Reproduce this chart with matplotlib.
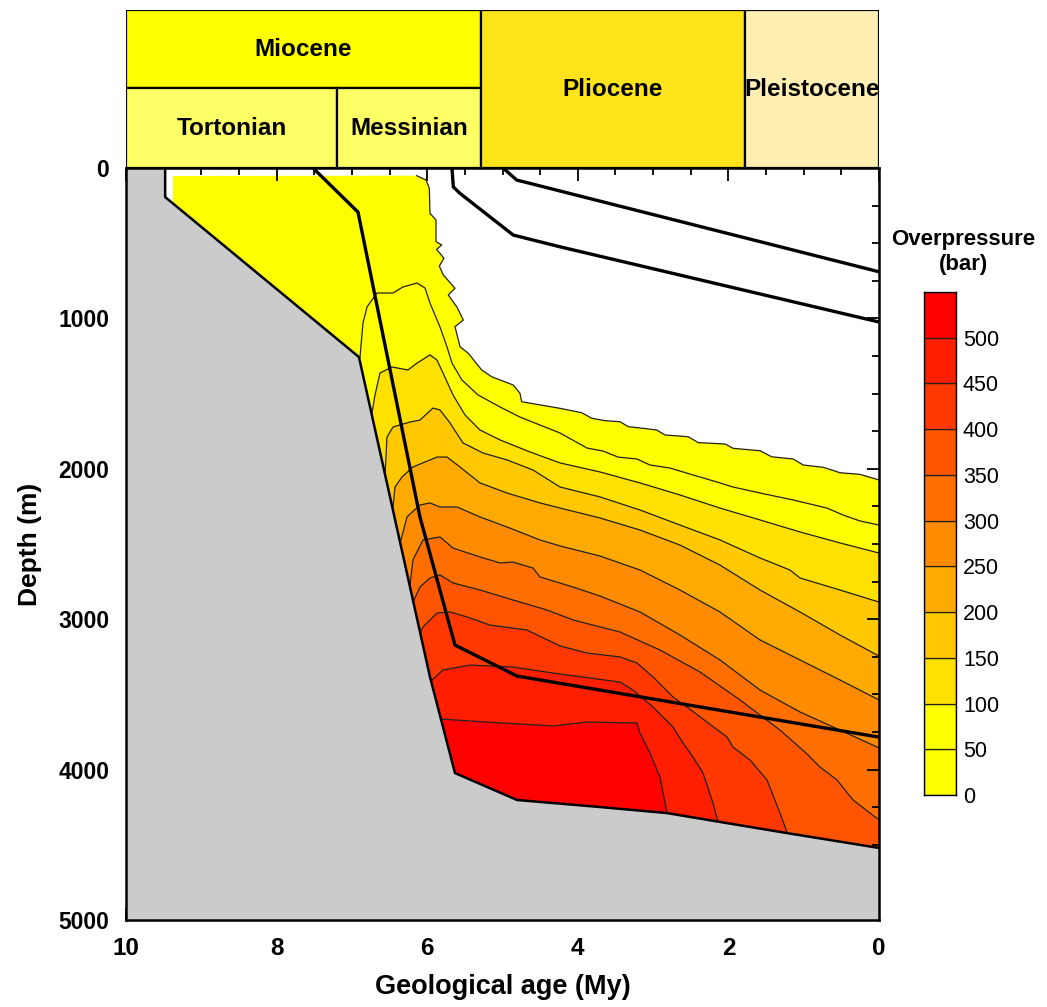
import matplotlib
matplotlib.use("Agg")
import matplotlib.pyplot as plt
from matplotlib.patches import Rectangle
from matplotlib.ticker import MultipleLocator

plt.rcParams['font.family'] = ['Liberation Sans', 'DejaVu Sans']

# ---------------- data ----------------
levels = [0, 50, 100, 150, 200, 250, 300, 350, 400, 450, 500, 550]
band_colors = ['#FFFF00', '#FFFF00', '#FFE100', '#FFC800', '#FFAA00', '#FF8C00',
               '#FF6E00', '#FF5500', '#FF3700', '#FF1E00', '#FF0000']

stage_names = ['Miocene', 'Tortonian', 'Messinian', 'Pliocene', 'Pleistocene']
stage_old = [10.0, 10.0, 7.2, 5.29, 1.78]
stage_young = [5.29, 7.2, 5.29, 1.78, 0.0]
stage_bottom = [0.506, 0.0, 0.0, 0.0, 0.0]
stage_top = [1.0, 0.506, 0.506, 1.0, 1.0]
stage_colors = ['#FFFF00', '#FFFF66', '#FFFF66', '#FFE41C', '#FFEFB2']

# basement (top of grey area)
basement_age = [9.48, 9.48, 6.906, 5.963, 5.631, 4.807, 3.705, 2.815, 2.112, 1.222, 0.0]
basement_depth = [0, 193, 1257, 3384, 4023, 4202, 4249, 4289, 4348, 4422, 4521]

# overpressure contours (age My, depth m)
c0_age = [9.376, 6.139, 6.016, 5.972, 5.963, 5.883, 5.883, 5.807, 5.874, 5.777, 5.839,
          5.786, 5.631, 5.720, 5.608, 5.520, 5.631, 5.564, 5.454, 5.276, 5.143, 4.857,
          4.768, 4.745, 4.236, 3.948, 3.815, 3.639, 3.439, 3.329, 3.130, 2.952, 2.842,
          2.533, 2.400, 2.045, 1.935, 1.580, 1.425, 1.138, 1.005, 0.740, 0.518, 0.252, 0.0]
c0_depth = [53, 51, 80, 135, 301, 346, 490, 512, 541, 600, 652,
            711, 800, 844, 922, 1011, 1055, 1188, 1232, 1343, 1388, 1443,
            1498, 1554, 1598, 1627, 1664, 1680, 1687, 1720, 1731, 1742, 1775,
            1787, 1826, 1835, 1864, 1880, 1920, 1935, 1975, 1990, 2026, 2037, 2074]

c50_age = [6.892, 6.853, 6.799, 6.667, 6.454, 6.321, 6.135, 6.029, 5.963, 5.830, 5.737,
           5.671, 5.538, 5.325, 5.033, 4.768, 4.502, 4.236, 3.878, 3.665, 3.466, 3.214,
           3.041, 2.776, 2.470, 2.151, 1.939, 1.580, 1.142, 0.691, 0.478, 0.252, 0.0]
c50_depth = [1257, 1031, 924, 831, 831, 791, 765, 798, 898, 1057, 1190,
             1297, 1410, 1509, 1589, 1656, 1709, 1762, 1862, 1882, 1922, 1935,
             1975, 1995, 2041, 2088, 2121, 2161, 2207, 2261, 2307, 2347, 2374]

c100_age = [6.733, 6.693, 6.627, 6.467, 6.255, 6.135, 5.963, 5.870, 5.790, 5.657, 5.498,
            5.299, 5.033, 4.635, 4.236, 3.705, 3.174, 2.643, 2.112, 1.580, 1.049, 0.518, 0.0]
c100_depth = [1629, 1509, 1363, 1323, 1343, 1297, 1243, 1277, 1363, 1509, 1642,
              1742, 1808, 1888, 1961, 2021, 2094, 2174, 2261, 2340, 2420, 2493, 2560]

c150_age = [6.560, 6.534, 6.454, 6.228, 6.096, 5.923, 5.830, 5.697, 5.525, 5.259, 4.940,
            4.595, 4.236, 3.705, 3.174, 2.643, 2.112, 1.580, 1.182, 1.049, 0.518, 0.0]
c150_depth = [2041, 1789, 1722, 1689, 1676, 1596, 1609, 1695, 1828, 1895, 1941,
              2008, 2121, 2187, 2274, 2374, 2473, 2593, 2673, 2726, 2806, 2886]

c200_age = [6.454, 6.428, 6.335, 6.189, 5.870, 5.737, 5.564, 5.299, 4.940, 4.502, 4.236,
            3.705, 3.174, 2.643, 2.112, 1.580, 1.049, 0.518, 0.0]
c200_depth = [2254, 2121, 2055, 1988, 1922, 1922, 1988, 2094, 2161, 2227, 2261,
              2327, 2407, 2507, 2640, 2806, 2952, 3105, 3245]

c250_age = [6.348, 6.268, 6.096, 5.963, 5.830, 5.604, 5.299, 4.940, 4.502, 4.236, 3.705,
            3.174, 2.643, 2.112, 1.580, 1.049, 0.518, 0.0]
c250_depth = [2473, 2320, 2241, 2227, 2254, 2254, 2320, 2387, 2473, 2513, 2580,
              2673, 2806, 2952, 3138, 3271, 3404, 3537]

c300_age = [6.228, 6.189, 6.056, 5.830, 5.657, 5.299, 5.033, 4.861, 4.595, 4.502, 4.064,
            3.705, 3.174, 2.643, 2.112, 1.580, 1.049, 0.518, 0.0]
c300_depth = [2773, 2606, 2473, 2453, 2527, 2586, 2626, 2620, 2660, 2719, 2786,
              2846, 2952, 3105, 3271, 3471, 3617, 3737, 3856]

c350_age = [6.175, 6.096, 5.963, 5.830, 5.657, 5.299, 4.861, 4.409, 4.064, 3.440, 2.908,
            2.377, 1.846, 1.315, 0.969, 0.784, 0.558, 0.345, 0.0]
c350_depth = [2872, 2786, 2726, 2706, 2759, 2806, 2872, 2939, 3005, 3085, 3205,
              3351, 3537, 3737, 3890, 3983, 4069, 4202, 4335]

c400_age = [6.096, 6.056, 5.870, 5.697, 5.471, 5.166, 4.675, 4.236, 3.878, 3.440, 3.214,
            3.001, 2.736, 2.550, 2.337, 2.019, 1.939, 1.713, 1.487, 1.315, 1.222]
c400_depth = [3092, 3052, 2959, 2952, 2985, 3039, 3072, 3178, 3225, 3251, 3291,
              3384, 3517, 3584, 3664, 3783, 3850, 3936, 4069, 4289, 4415]

c450_age = [5.936, 5.790, 5.432, 4.861, 4.329, 3.440, 3.267, 3.001, 2.736, 2.603, 2.470,
            2.337, 2.205, 2.138]
c450_depth = [3404, 3338, 3305, 3318, 3358, 3418, 3471, 3584, 3717, 3823, 3916,
              4023, 4222, 4348]

c500_age = [5.817, 5.206, 4.329, 3.878, 3.214, 3.174, 3.041, 2.908, 2.815]
c500_depth = [3664, 3684, 3710, 3684, 3690, 3757, 3890, 4050, 4289]

# burial paths (thick black lines)
path1_age = [7.517, 6.919, 6.096, 5.631, 4.807, 0.0]
path1_depth = [0, 293, 2321, 3172, 3378, 3784]
path2_age = [5.671, 5.653, 5.564, 4.857, 4.236, 0.0]
path2_depth = [0, 126, 169, 446, 524, 1024]
path3_age = [4.993, 4.811, 0.0]
path3_depth = [0, 80, 690]

contours = [(c0_age, c0_depth), (c50_age, c50_depth), (c100_age, c100_depth),
            (c150_age, c150_depth), (c200_age, c200_depth), (c250_age, c250_depth),
            (c300_age, c300_depth), (c350_age, c350_depth), (c400_age, c400_depth),
            (c450_age, c450_depth), (c500_age, c500_depth)]

# ---------------- figure ----------------
W, H = 1047, 1007
fig = plt.figure(figsize=(W / 100, H / 100), dpi=100)
ax = fig.add_axes([126 / W, 1 - 920 / H, 753 / W, 752 / H])
hax = fig.add_axes([126 / W, 1 - 168 / H, 753 / W, 158 / H])
cax = fig.add_axes([924 / W, 1 - 795 / H, 32 / W, 503 / H])

# filled bands, painted from low to high pressure
for i, (a, d) in enumerate(contours):
    if i == 0:
        xs = a + [a[-1], a[0]]
        ys = d + [6000, 6000]
    else:
        xs = a + [a[-1], 10.5, 10.5]
        ys = d + [6000, 6000, d[0]]
    ax.fill(xs, ys, color=band_colors[i], lw=0, zorder=1)

for i, (a, d) in enumerate(contours):
    start = 1 if i == 0 else 0
    ax.plot(a[start:], d[start:], color='#222222', lw=0.9, zorder=2)

# basement
ax.fill(basement_age + [0, 10.5, 10.5], basement_depth + [5200, 5200, 0],
        color='#CBCBCB', lw=0, zorder=3)
ax.plot(basement_age, basement_depth, color='black', lw=1.8, zorder=4)

for a, d in [(path1_age, path1_depth), (path2_age, path2_depth), (path3_age, path3_depth)]:
    ax.plot(a, d, color='black', lw=2.4, zorder=5, solid_joinstyle='miter')

ax.set_xlim(10, 0)
ax.set_ylim(5000, 0)
ax.xaxis.set_major_locator(MultipleLocator(2))
ax.xaxis.set_minor_locator(MultipleLocator(0.5))
ax.yaxis.set_major_locator(MultipleLocator(1000))
ax.yaxis.set_minor_locator(MultipleLocator(250))
ax.tick_params(which='both', direction='in', top=True, right=True, width=1.3, colors='black')
ax.tick_params(which='major', length=9)
ax.tick_params(which='minor', length=5)
ax.tick_params(axis='x', pad=12, labelsize=17.5)
ax.tick_params(axis='y', pad=12, labelsize=16.5)
for lab in ax.get_xticklabels() + ax.get_yticklabels():
    lab.set_fontweight('bold')
for sp in ax.spines.values():
    sp.set_linewidth(1.8)
    sp.set_zorder(6)
ax.set_xlabel('Geological age (My)', fontsize=19.5, fontweight='bold', labelpad=10)
ax.set_ylabel('Depth (m)', fontsize=19, fontweight='bold', labelpad=12)

# stratigraphic header
for name, old, young, y0, y1, col in zip(stage_names, stage_old, stage_young,
                                        stage_bottom, stage_top, stage_colors):
    hax.add_patch(Rectangle((old, y0), young - old, y1 - y0, facecolor=col,
                            edgecolor='black', lw=1.6))
    hax.text((old + young) / 2, (y0 + y1) / 2, name, ha='center', va='center',
             fontsize=17.5, fontweight='bold')
hax.set_xlim(10, 0)
hax.set_ylim(0, 1)
hax.axis('off')

# colour bar
for i in range(len(band_colors)):
    cax.bar(0.5, levels[i + 1] - levels[i], bottom=levels[i], width=1,
            color=band_colors[i], edgecolor='#222222', lw=0.9)
cax.set_xlim(0, 1)
cax.set_ylim(0, 550)
cax.set_xticks([])
cax.set_yticks(levels[:-1])
cax.yaxis.tick_right()
cax.tick_params(axis='y', length=0, pad=5, labelsize=15.5)
for sp in cax.spines.values():
    sp.set_linewidth(1.0)
fig.text(963 / W, 1 - 240 / H, 'Overpressure', ha='center', va='center',
         fontsize=16, fontweight='bold')
fig.text(963 / W, 1 - 265 / H, '(bar)', ha='center', va='center',
         fontsize=16, fontweight='bold')

fig.savefig('out.png', dpi=100)
